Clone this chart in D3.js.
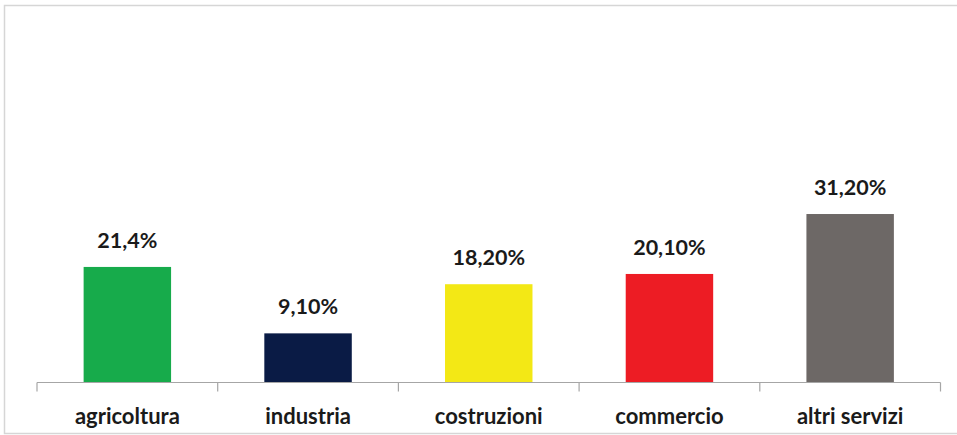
<!DOCTYPE html>
<html>
<head>
<meta charset="utf-8">
<script src="https://cdn.jsdelivr.net/npm/d3@7"></script>
<style>
  html, body { margin: 0; padding: 0; background: #fff; }
  svg { display: block; }
  .cat { font-family: Lato, "Open Sans", sans-serif; font-weight: bold; font-size: 22px; fill: #1a1a1a; }
  .val { font-family: Lato, "Open Sans", sans-serif; font-weight: bold; font-size: 21.5px; fill: #1a1a1a; }
</style>
</head>
<body>
<div class="chart"></div>
<script>
const categories = ["agricoltura", "industria", "costruzioni", "commercio", "altri servizi"]
const values = [21.4, 9.1, 18.2, 20.1, 31.2]
const valueLabels = ["21,4%", "9,10%", "18,20%", "20,10%", "31,20%"]
const colors = ["#17ab4b", "#0a1b45", "#f3e815", "#ed1c24", "#6d6866"]

const width = 957, height = 435

const svg = d3.select(".chart").append("svg")
    .attr("width", width)
    .attr("height", height)

// outer frame
svg.append("rect")
    .attr("x", 4.5).attr("y", 5.5)
    .attr("width", 960).attr("height", 428)
    .attr("fill", "none")
    .attr("stroke", "#d6d6d6")
    .attr("stroke-width", 1.5)

const x = d3.scaleBand()
    .domain(categories)
    .range([37, 940.5])
    .padding(0)

const y = d3.scaleLinear()
    .domain([0, 35])
    .range([382.5, 193.5])

const barW = x.bandwidth() * 0.484

// bars
svg.selectAll("rect.bar")
    .data(values)
  .enter().append("rect")
    .attr("class", "bar")
    .attr("x", (d, i) => x(categories[i]) + (x.bandwidth() - barW) / 2)
    .attr("y", d => y(d))
    .attr("width", barW)
    .attr("height", d => y(0) - y(d))
    .attr("fill", (d, i) => colors[i])

// value labels
svg.selectAll("text.val")
    .data(values)
  .enter().append("text")
    .attr("class", "val")
    .attr("x", (d, i) => x(categories[i]) + x.bandwidth() / 2)
    .attr("y", d => y(d) - 19)
    .attr("text-anchor", "middle")
    .text((d, i) => valueLabels[i])

// x axis line with boundary ticks
const axis = svg.append("g")
axis.append("line")
    .attr("x1", x.range()[0]).attr("x2", x.range()[1])
    .attr("y1", y(0)).attr("y2", y(0))
    .attr("stroke", "#a6a6a6").attr("stroke-width", 1.2)
const bounds = categories.map(c => x(c)).concat([x.range()[1]])
axis.selectAll("line.tick")
    .data(bounds)
  .enter().append("line")
    .attr("class", "tick")
    .attr("x1", d => d).attr("x2", d => d)
    .attr("y1", y(0)).attr("y2", y(0) + 9)
    .attr("stroke", "#a6a6a6").attr("stroke-width", 1.2)

// category labels
svg.selectAll("text.cat")
    .data(categories)
  .enter().append("text")
    .attr("class", "cat")
    .attr("x", d => x(d) + x.bandwidth() / 2)
    .attr("y", 423.5)
    .attr("text-anchor", "middle")
    .text(d => d)
</script>
</body>
</html>
